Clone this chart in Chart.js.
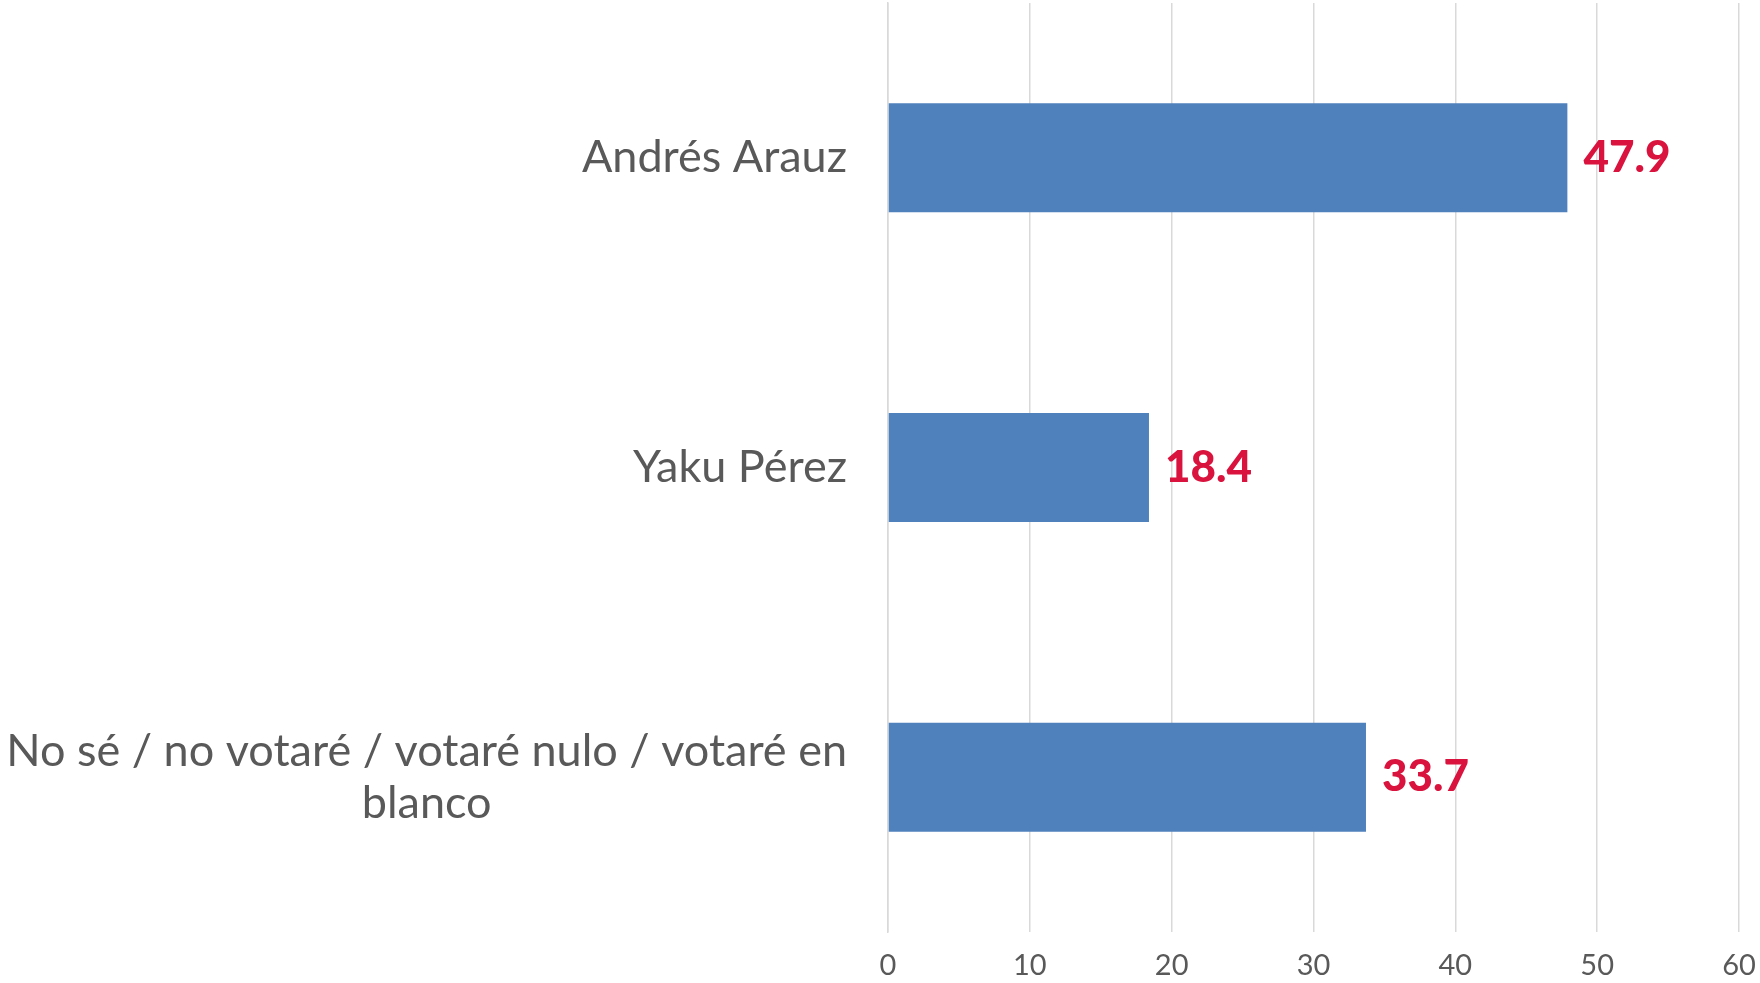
<!DOCTYPE html>
<html>
<head>
<meta charset="utf-8">
<script src="https://cdn.jsdelivr.net/npm/chart.js@4"></script>
<style>
  html, body { margin: 0; padding: 0; background: #fff; }
  #wrap { width: 1760px; height: 983px; }
</style>
</head>
<body>
<div id="wrap"><canvas id="voteChart" width="1760" height="983"></canvas></div>
<script>
var categories = [
    ["Andrés Arauz"],
    ["Yaku Pérez"],
    ["No sé / no votaré / votaré nulo / votaré en", "blanco"]
];
var values = [47.9, 18.4, 33.7];
var valueLabels = ["47.9", "18.4", "33.7"];
var xTicks = [0, 10, 20, 30, 40, 50, 60];

var labelFont = "Lato";
var textColor = "#595959";

// category names and value labels drawn next to the bars
var barText = {
    id: "barText",
    afterDatasetsDraw: function (chart) {
        var c = chart.ctx;
        var yScale = chart.scales.y;
        var meta = chart.getDatasetMeta(0);
        c.save();
        c.textBaseline = "middle";

        c.font = "45px " + labelFont;
        c.fillStyle = textColor;
        var right = yScale.right - 41;
        categories.forEach(function (lines, i) {
            var yc = yScale.getPixelForTick(i);
            var lh = 52;
            var widest = 0;
            lines.forEach(function (l) { widest = Math.max(widest, c.measureText(l).width); });
            var mid = right - widest / 2;
            c.textAlign = "center";
            lines.forEach(function (l, k) {
                c.fillText(l, mid, yc + (k - (lines.length - 1) / 2) * lh);
            });
        });

        c.font = "900 44px " + labelFont;
        c.fillStyle = "#D9133D";
        c.textAlign = "left";
        meta.data.forEach(function (bar, i) {
            c.fillText(valueLabels[i], bar.x + 16, bar.y);
        });
        c.restore();
    }
};

var ctx = document.getElementById("voteChart").getContext("2d");

var data = {
    labels: categories,
    datasets: [
        {
            label: "Intención de voto",
            backgroundColor: "#4F81BD",
            borderWidth: 0,
            categoryPercentage: 1,
            barPercentage: 0.352,
            data: values
        }
    ]
};

var options = {
    indexAxis: "y",
    responsive: false,
    animation: false,
    layout: {
        padding: { top: 3, right: 21, left: 0, bottom: 0 }
    },
    scales: {
        x: {
            min: 0,
            max: 60,
            afterBuildTicks: function (axis) {
                axis.ticks = xTicks.map(function (v) { return { value: v }; });
            },
            afterFit: function (axis) {
                axis.height = 51;
                axis.paddingLeft = 0;
                axis.paddingRight = 0;
            },
            grid: { color: "#D9D9D9", lineWidth: 1.5, drawTicks: false },
            border: { display: false },
            ticks: {
                color: textColor,
                padding: 16,
                font: { family: labelFont, size: 29 }
            }
        },
        y: {
            afterFit: function (axis) { axis.width = 888; },
            grid: { display: false },
            border: { display: true, color: "#D9D9D9", width: 1.5 },
            ticks: { display: false }
        }
    },
    plugins: {
        legend: { display: false },
        tooltip: { enabled: false }
    }
};

var barChart = new Chart(ctx, {
    type: "bar",
    data: data,
    options: options,
    plugins: [barText]
});
</script>
</body>
</html>
